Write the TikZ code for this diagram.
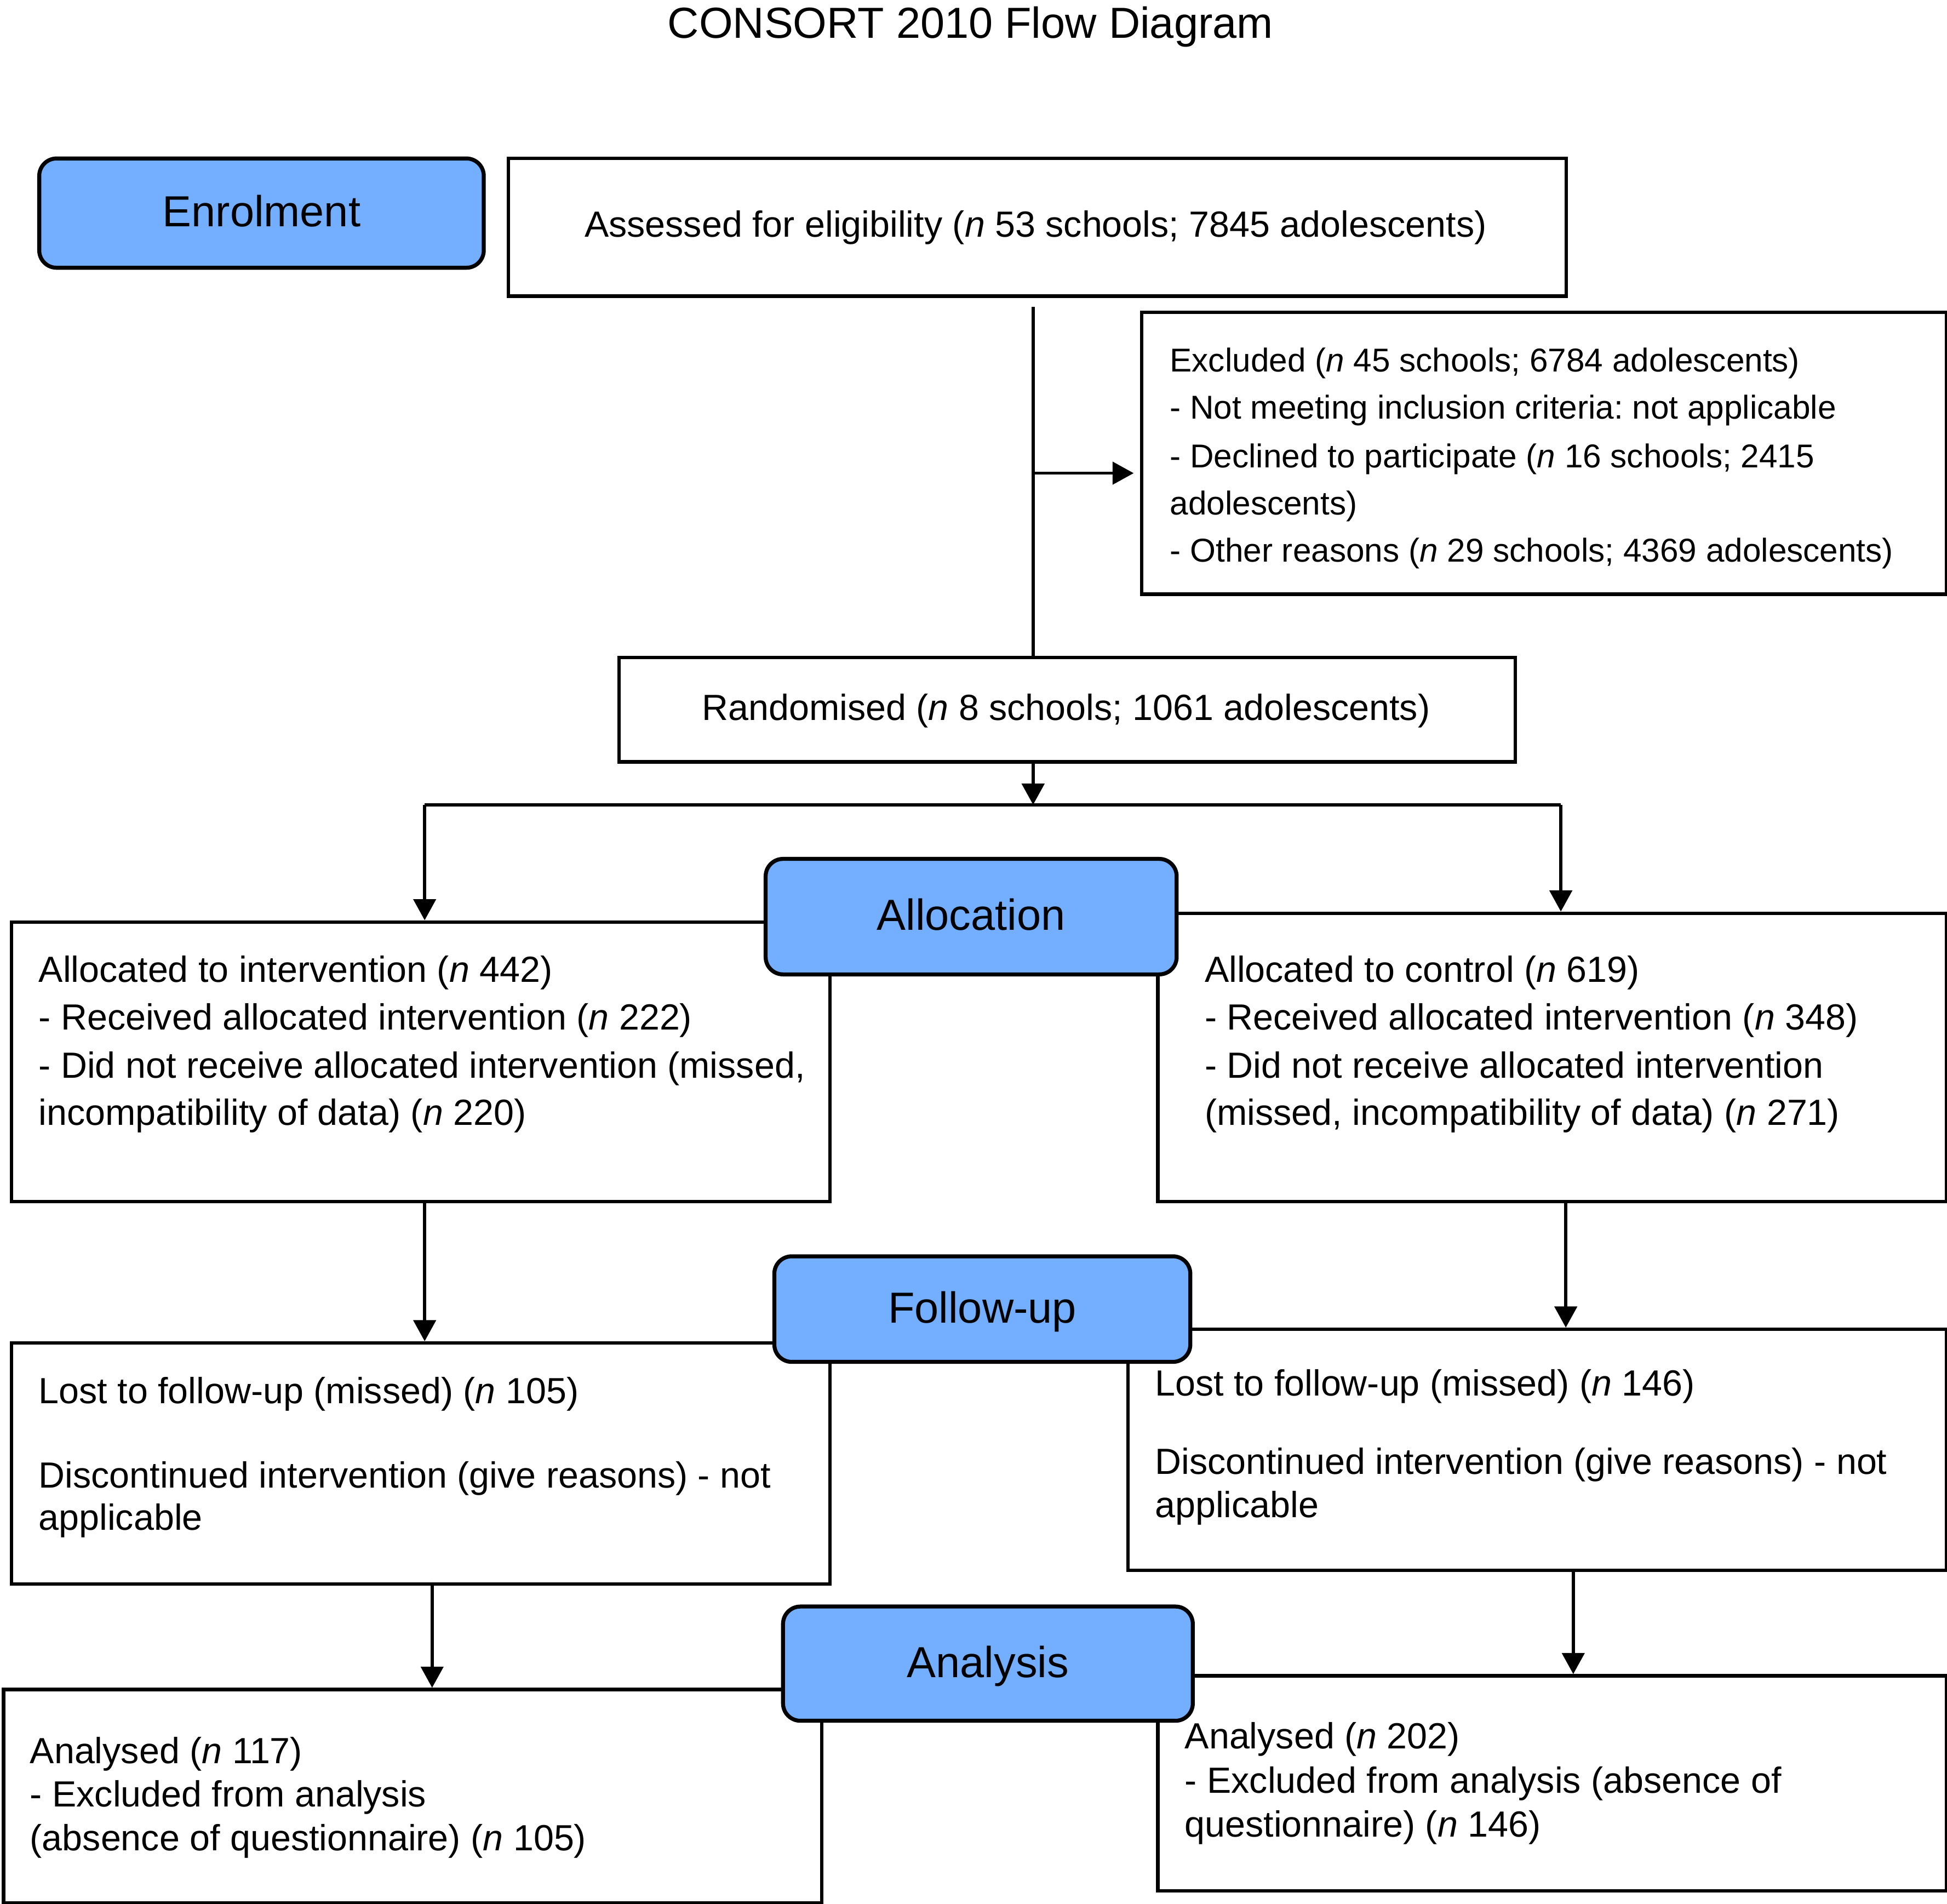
\documentclass[tikz,border=0pt]{standalone}
\usepackage{fontspec}
\setmainfont{Liberation Sans}
\usetikzlibrary{arrows.meta}
\definecolor{phaseblue}{RGB}{115,174,255}
\newcommand\bodyfont{\fontsize{29.3}{38}\selectfont}
\newcommand\exclfont{\fontsize{26.6}{38}\selectfont}
\newcommand\labfont{\fontsize{35}{40}\selectfont}
\frenchspacing
\begin{document}
\begin{tikzpicture}[x=1pt,y=-1pt,
  wbox/.style={draw, line width=2.8pt, fill=white, inner sep=0pt, anchor=north west},
  phase/.style={draw, line width=3.2pt, fill=phaseblue, rounded corners=14pt, inner sep=0pt,
     anchor=north west, font=\labfont, text height=22pt, text depth=0pt},
  txt/.style={anchor=base west, inner sep=0pt, font=\bodyfont},
  ctxt/.style={anchor=base, inner sep=0pt, font=\bodyfont},
  etxt/.style={anchor=base west, inner sep=0pt, font=\exclfont},
  conn/.style={line width=2.5pt},
  arr/.style={conn, -{Triangle[length=17pt,width=18pt]}}]
\useasboundingbox (0,0) rectangle (1568,1533);

% title
\node[anchor=base, inner sep=0pt, font=\labfont] (title) at (781.5,30.5) {CONSORT 2010 Flow Diagram};

% white boxes
\node[wbox, minimum width=852pt, minimum height=111pt] (assess) at (408,126) {};
\node[wbox, minimum width=648pt, minimum height=227pt] (excl) at (918,250) {};
\node[wbox, minimum width=722pt, minimum height=84pt] (rand) at (497,528) {};
\node[wbox, minimum width=659pt, minimum height=225pt] (intv) at (8,741) {};
\node[wbox, minimum width=635pt, minimum height=232pt] (ctrl) at (931,734) {};
\node[wbox, minimum width=659pt, minimum height=194pt] (lostL) at (8,1080) {};
\node[wbox, minimum width=659pt, minimum height=194pt] (lostR) at (907,1069) {};
\node[wbox, minimum width=659pt, minimum height=172pt] (anL) at (1.5,1359) {};
\node[wbox, minimum width=635pt, minimum height=173pt] (anR) at (931,1348) {};

% texts
\node[ctxt] (tassess) at (834,191) {Assessed for eligibility (\textit{n} 53 schools; 7845 adolescents)};
\node[etxt] (te1) at (942,299.5) {Excluded (\textit{n} 45 schools; 6784 adolescents)};
\node[etxt] (te2) at (942,337.5) {- Not meeting inclusion criteria: not applicable};
\node[etxt] (te3) at (942,376.5) {- Declined to participate (\textit{n} 16 schools; 2415};
\node[etxt] (te4) at (942,414.5) {adolescents)};
\node[etxt] (te5) at (942,452.5) {- Other reasons (\textit{n} 29 schools; 4369 adolescents)};
\node[ctxt] (trand) at (858.5,580) {Randomised (\textit{n} 8 schools; 1061 adolescents)};

\node[txt] (ti1) at (31,791) {Allocated to intervention (\textit{n} 442)};
\node[txt] (ti2) at (31,829) {- Received allocated intervention (\textit{n} 222)};
\node[txt] (ti3) at (31,868) {- Did not receive allocated intervention (missed,};
\node[txt] (ti4) at (31,906) {incompatibility of data) (\textit{n} 220)};

\node[txt] (tc1) at (970,791) {Allocated to control (\textit{n} 619)};
\node[txt] (tc2) at (970,829) {- Received allocated intervention (\textit{n} 348)};
\node[txt] (tc3) at (970,868) {- Did not receive allocated intervention};
\node[txt] (tc4) at (970,906) {(missed, incompatibility of data) (\textit{n} 271)};

\node[txt] (tl1) at (31,1130) {Lost to follow-up (missed) (\textit{n} 105)};
\node[txt] (tl2) at (31,1198) {Discontinued intervention (give reasons) - not};
\node[txt] (tl3) at (31,1232) {applicable};

\node[txt] (tr1) at (930,1124) {Lost to follow-up (missed) (\textit{n} 146)};
\node[txt] (tr2) at (930,1187) {Discontinued intervention (give reasons) - not};
\node[txt] (tr3) at (930,1222) {applicable};

\node[txt] (ta1) at (24,1420) {Analysed (\textit{n} 117)};
\node[txt] (ta2) at (24,1455) {- Excluded from analysis};
\node[txt] (ta3) at (24,1490) {(absence of questionnaire) (\textit{n} 105)};

\node[txt] (tb1) at (954,1408) {Analysed (\textit{n} 202)};
\node[txt] (tb2) at (954,1444) {- Excluded from analysis (absence of};
\node[txt] (tb3) at (954,1479) {questionnaire) (\textit{n} 146)};

% connectors
\coordinate (vtop) at (832,247);
\coordinate (vmid) at (832,381);
\coordinate (split) at (832,648);
\coordinate (sL) at (342,648);
\coordinate (sR) at (1257,648);
\coordinate (cL1) at (342,966);
\coordinate (cR1) at (1261,966);
\coordinate (cL2) at (348,1274);
\coordinate (cR2) at (1267,1263);

\draw[conn] (vtop) -- (vtop |- rand.north);
\draw[arr] (vmid) -- ([xshift=-5pt]vmid -| excl.west);
\draw[arr] (split |- rand.south) -- (split);
\draw[conn] (sL) -- (sR);
\draw[arr] (sL) -- (sL |- intv.north);
\draw[arr] (sR) -- (sR |- ctrl.north);
\draw[arr] (cL1) -- (cL1 |- lostL.north);
\draw[arr] (cR1) -- (cR1 |- lostR.north);
\draw[arr] (cL2) -- (cL2 |- anL.north);
\draw[arr] (cR2) -- (cR2 |- anR.north);

% phase boxes
\node[phase, minimum width=358pt, minimum height=88pt] (enrol) at (30,126) {Enrolment};
\node[phase, minimum width=331pt, minimum height=93pt] (alloc) at (615,690) {Allocation};
\node[phase, minimum width=335pt, minimum height=85pt] (fup) at (622,1010) {Follow-up};
\node[phase, minimum width=330pt, minimum height=92pt] (anal) at (629,1292) {Analysis};
\end{tikzpicture}
\end{document}
